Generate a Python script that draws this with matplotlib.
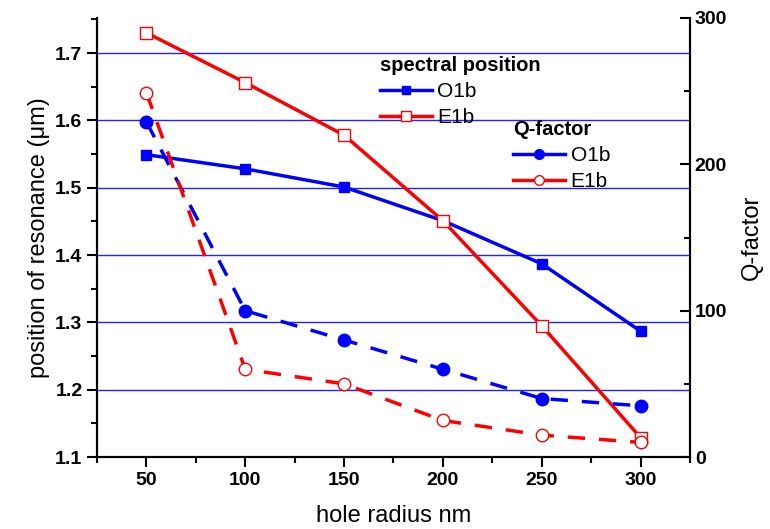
import matplotlib.pyplot as plt
from matplotlib.lines import Line2D
from matplotlib.ticker import MultipleLocator

plt.rcParams['font.family'] = ['Liberation Sans', 'DejaVu Sans']

# hole radius (nm)
radius = [50, 100, 150, 200, 250, 300]

# spectral position of resonance (um)
pos_o1b = [1.549, 1.528, 1.501, 1.451, 1.387, 1.287]
pos_e1b = [1.730, 1.656, 1.578, 1.451, 1.295, 1.129]

# Q-factor
q_o1b = [229, 100, 80, 60, 40, 35]
q_e1b = [249, 60, 50, 25, 15, 10]

fig = plt.figure(figsize=(7.7, 5.29), dpi=100)
ax = fig.add_axes([0.126, 0.136, 0.77, 0.830])
ax2 = ax.twinx()

# horizontal grid lines
for yv in [1.2, 1.3, 1.4, 1.5, 1.6, 1.7]:
    ax.axhline(yv, color='#2222ff', lw=1, zorder=0)

ax.plot(radius, pos_o1b, '-', color='#0000ff', lw=2.5, marker='s', ms=7.5,
        mfc='#0000ff', mec='#0000ff')
ax.plot(radius, pos_e1b, '-', color='#ff0000', lw=2.5, marker='s', ms=8,
        mfc='white', mec='#ff0000', mew=1)
ax2.plot(radius, q_o1b, '--', color='#0000ff', lw=2.5, marker='o', ms=9,
         mfc='#0000ff', mec='#0000ff', dashes=(5, 4))
ax2.plot(radius, q_e1b, '--', color='#ff0000', lw=2.5, marker='o', ms=9,
         mfc='white', mec='#ff0000', mew=1, dashes=(5, 4))

ax.set_xlim(25, 325)
ax.set_ylim(1.1, 1.752)
ax2.set_ylim(0, 300)

ax.xaxis.set_major_locator(MultipleLocator(50))
ax.xaxis.set_minor_locator(MultipleLocator(25))
ax.yaxis.set_major_locator(MultipleLocator(0.1))
ax.yaxis.set_minor_locator(MultipleLocator(0.05))
ax2.yaxis.set_major_locator(MultipleLocator(100))
ax2.yaxis.set_minor_locator(MultipleLocator(50))

for a in (ax, ax2):
    a.spines['top'].set_visible(False)
    for s in a.spines.values():
        s.set_linewidth(1.5)

ax.tick_params(axis='both', which='major', direction='out', length=7, width=1.5, labelsize=14, top=False)
ax.tick_params(axis='both', which='minor', direction='out', length=4, width=1.5, top=False)
ax2.tick_params(axis='y', which='major', direction='in', length=7, width=1.5, labelsize=14)
ax2.tick_params(axis='y', which='minor', direction='in', length=4, width=1.5)

for lab in ax.get_xticklabels() + ax.get_yticklabels() + ax2.get_yticklabels():
    lab.set_fontweight('bold')

ax.set_xlabel('hole radius nm', fontsize=17, labelpad=12)
ax.set_ylabel('position of resonance (\u03bcm)', fontsize=17)
ax2.set_ylabel('Q-factor', fontsize=17, labelpad=10)

# legend handles with smaller markers
h1 = Line2D([], [], color='#0000ff', lw=2.5, marker='s', ms=6, mfc='#0000ff', mec='#0000ff')
h2 = Line2D([], [], color='#ff0000', lw=2.5, marker='s', ms=6.5, mfc='white', mec='#ff0000', mew=1)
h3 = Line2D([], [], color='#0000ff', lw=2.5, marker='o', ms=7, mfc='#0000ff', mec='#0000ff')
h4 = Line2D([], [], color='#ff0000', lw=2.5, marker='o', ms=7, mfc='white', mec='#ff0000', mew=1)

leg_kw = dict(loc='upper left', frameon=False, fontsize=15, handlelength=2.5,
              handletextpad=0.25, labelspacing=0.35, borderaxespad=0,
              title_fontproperties={'weight': 'bold', 'size': 14.5})

leg1 = ax2.legend(handles=[h1, h2], labels=['O1b', 'E1b'], title='spectral position',
                  bbox_to_anchor=(0.463, 0.933), **leg_kw)
leg1._legend_box.align = 'left'
ax2.add_artist(leg1)
leg2 = ax2.legend(handles=[h3, h4], labels=['O1b', 'E1b'], title='Q-factor',
                  bbox_to_anchor=(0.688, 0.787), **leg_kw)
leg2._legend_box.align = 'left'

fig.savefig('out.png', dpi=100)
